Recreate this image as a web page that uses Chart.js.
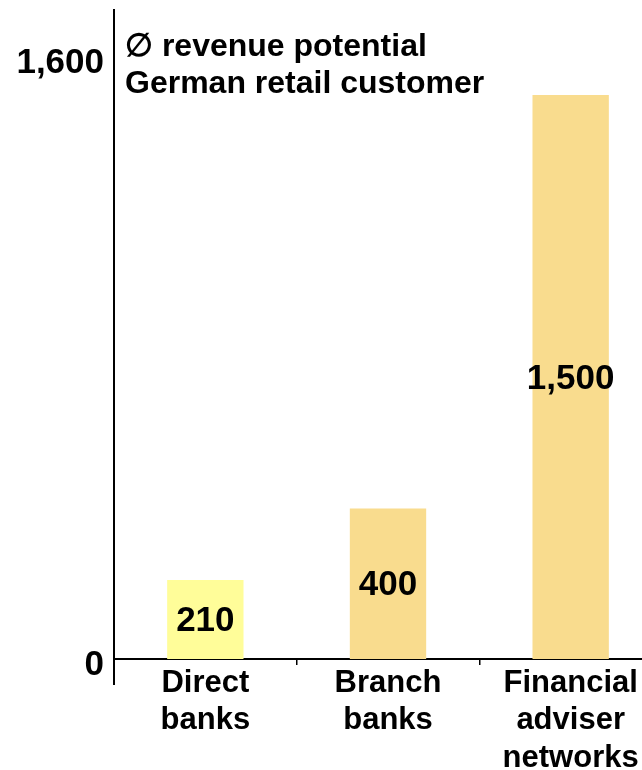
<!DOCTYPE html>
<html>
<head>
<meta charset="utf-8">
<script src="https://cdn.jsdelivr.net/npm/chart.js@4"></script>
<style>
  html, body { margin: 0; padding: 0; background: #fff; overflow: hidden; }
  body { width: 642px; height: 770px; }
</style>
</head>
<body>
<canvas id="myChart" width="662" height="770"></canvas>
<script>
// chart data
const categories = [['Direct', 'banks'], ['Branch', 'banks'], ['Financial', 'adviser', 'networks']];
const revenue = [210, 400, 1500];
const valueLabels = ['210', '400', '1,500'];
const yTicks = [0, 1600];
const titleLines = ['\u2205 revenue potential', 'German retail customer'];

const FONT = 'Liberation Sans, Arial, sans-serif';

// y axis line goes a bit below the baseline, plus title and labels in bars
const extras = {
    id: 'extras',
    afterDatasetsDraw(chart) {
        const ctx = chart.ctx;
        const area = chart.chartArea;
        ctx.save();
        ctx.fillStyle = '#000';
        ctx.textAlign = 'center';
        ctx.textBaseline = 'middle';
        ctx.font = 'bold 35px ' + FONT;
        chart.getDatasetMeta(0).data.forEach(function(bar, i) {
            ctx.fillText(valueLabels[i], bar.x, (bar.y + bar.base) / 2 + 2);
        });
        ctx.font = 'bold 32px ' + FONT;
        ctx.textAlign = 'left';
        titleLines.forEach(function(line, i) {
            ctx.fillText(line, area.left + 11, area.top + 38 + i * 37);
        });
        ctx.strokeStyle = '#000';
        ctx.lineWidth = 2;
        ctx.beginPath();
        ctx.moveTo(area.left, area.top);
        ctx.lineTo(area.left, area.bottom + 26);
        ctx.stroke();
        ctx.restore();
    }
};

const myChart = new Chart(
    document.getElementById('myChart'), {
        type: 'bar',
        data: {
            labels: categories,
            datasets: [{
                data: revenue,
                backgroundColor: ['#FFFD99', '#F9DC8E', '#F9DC8E'],
                borderWidth: 0,
                barPercentage: 0.418,
                categoryPercentage: 1
            }]
        },
        options: {
            responsive: false,
            animation: false,
            layout: { padding: { top: 9, left: 0, right: 0, bottom: 0 } },
            plugins: {
                legend: { display: false },
                tooltip: { enabled: false }
            },
            scales: {
                x: {
                    grid: {
                        offset: true,
                        drawOnChartArea: false,
                        drawTicks: true,
                        tickLength: 6,
                        color: '#000',
                        lineWidth: 1.5
                    },
                    border: { display: true, color: '#000', width: 2 },
                    ticks: {
                        color: '#000',
                        padding: 0,
                        maxRotation: 0,
                        autoSkip: false,
                        font: { family: FONT, size: 31, weight: 'bold', lineHeight: 1.2 }
                    },
                    afterFit: function(s) {
                        s.height = 111;
                        s.paddingLeft = 0;
                        s.paddingRight = 0;
                    }
                },
                y: {
                    min: 0,
                    max: 1729,
                    grid: { display: false, drawTicks: false },
                    border: { display: false },
                    afterBuildTicks: function(s) {
                        s.ticks = yTicks.map(function(v) { return { value: v }; });
                    },
                    ticks: {
                        color: '#000',
                        padding: 10,
                        // empty first line pushes the number a few px down, like the original
                        font: { family: FONT, size: 35, weight: 'bold', lineHeight: '12px' },
                        callback: function(v) { return ['', v.toLocaleString('en-US')]; }
                    },
                    afterFit: function(s) {
                        s.width = 114;
                        s.paddingTop = 0;
                        s.paddingBottom = 0;
                    }
                }
            }
        },
        plugins: [extras]
    }
);
</script>
</body>
</html>
